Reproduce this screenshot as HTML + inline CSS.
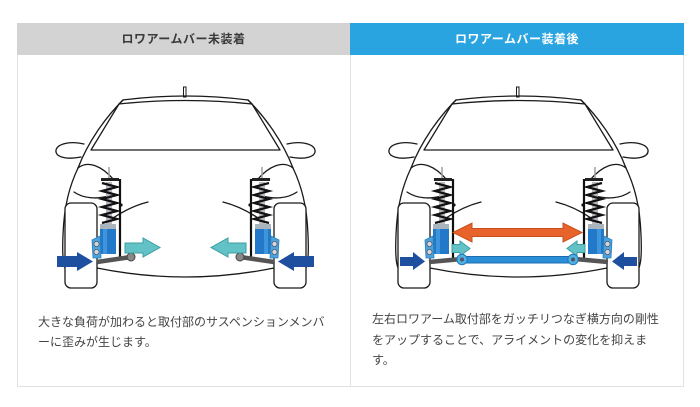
<!DOCTYPE html>
<html><head><meta charset="utf-8">
<style>
html,body{margin:0;padding:0;background:#fff;}
body{width:700px;height:407px;position:relative;overflow:hidden;font-family:"Liberation Sans","Noto Sans CJK JP",sans-serif;}
.panel{position:absolute;top:23px;height:364px;border:1px solid #e2e2e2;box-sizing:border-box;background:#fff;}
.hdr{position:absolute;top:23px;height:32px;line-height:32px;text-align:center;font-size:12px;font-weight:bold;letter-spacing:0.5px;}
.txt{position:absolute;font-size:12px;color:#444;white-space:nowrap;}
svg{position:absolute;left:0;top:0;}
</style></head><body>
<div class="panel" style="left:17px;width:334px;"></div>
<div class="panel" style="left:350px;width:334px;"></div>
<div class="hdr" style="left:17px;width:333px;background:#d3d3d3;color:#3a3a3a;">ロワアームバー未装着</div>
<div class="hdr" style="left:350px;width:334px;background:#29a4e0;color:#fff;">ロワアームバー装着後</div>

<svg width="700" height="407" viewBox="0 0 700 407">
<defs>
  <g id="carHalf" fill="none" stroke="#1a1a1a" stroke-width="1.3" stroke-linejoin="round" stroke-linecap="round">
    <path d="M123 100 L119 104"/>
    <path d="M123 100 C105 118, 88 142, 78 168"/>
    <path d="M78 168 C70 185, 64 205, 63 235 C62 258, 63 270, 70 275"/>
    <path d="M84 144 C72 141, 58 143, 56 150 C55 157, 66 160, 81 157" fill="#fff"/>
    <path d="M78 168 C88 160, 102 166, 114 180"/>
    <path d="M74 192 C84 199, 98 199, 108 196"/>
    <path d="M113 218 C125 210, 136 205, 148 202"/>
    <rect x="65" y="203" width="32" height="85" rx="6" fill="#fff"/>
  </g>
  <g id="strut">
    <line x1="109" y1="167" x2="109" y2="180" stroke="#a0a0a0" stroke-width="1.5"/>
    <rect x="106" y="182" width="6" height="42" fill="#b8bcc0"/>
    <polyline points="102,183 117,187 102,191 117,195 102,199 117,203 102,207 117,211 102,215 117,219 102,223" fill="none" stroke="#111" stroke-width="2.2"/>
    <rect x="101" y="178" width="18" height="3" fill="#222"/>
    <path d="M120 179 L120 260" stroke="#111" stroke-width="2.2"/>
    <circle cx="121" cy="205" r="1.6" fill="#111"/>
    <rect x="100" y="224" width="16" height="5" fill="#aab4bd"/>
    <rect x="100" y="229" width="16" height="25" fill="#2279c9"/>
    <rect x="103" y="229" width="4" height="25" fill="#3e95dc"/>
    <path d="M92 240 L100 236 L101 258 L93 258 Z" fill="#4ba3dc" stroke="#2a7fbf" stroke-width="0.8"/>
    <circle cx="96.5" cy="244" r="2.6" fill="#d0d8e0" stroke="#556" stroke-width="0.8"/>
    <circle cx="96.5" cy="252" r="2.6" fill="#d0d8e0" stroke="#556" stroke-width="0.8"/>
  </g>
  <g id="car">
    <rect x="183.5" y="87" width="2.5" height="10" fill="#fff" stroke="#1a1a1a" stroke-width="1"/>
    <g fill="none" stroke="#1a1a1a" stroke-width="1.3" stroke-linejoin="round">
      <path d="M123 100 Q185.5 92 248 100"/>
      <path d="M119 104 Q185.5 97 252 104"/>
      <path d="M119 104 L91 150 L280 150 L252 104"/>
      <path d="M97 268 Q185.5 286 274 268"/>
    </g>
    <use href="#carHalf"/>
    <use href="#carHalf" transform="matrix(-1,0,0,1,371,0)"/>
  </g>
  <g id="p1half">
    <use href="#strut"/>
    <line x1="97" y1="262" x2="131" y2="257" stroke="#555" stroke-width="4.5"/>
    <circle cx="131" cy="257" r="4" fill="#888" stroke="#444" stroke-width="1"/>
    <polygon points="57,256 77,256 77,252 93,261.5 77,271 77,267 57,267" fill="#1f4f9f"/>
    <polygon points="125,243 143,243 143,238 160,247.5 143,257 143,253 125,253" fill="#63c2c6" stroke="#3b9ea4" stroke-width="1"/>
  </g>
  <g id="p2half">
    <use href="#strut"/>
    <line x1="96" y1="262" x2="129" y2="259" stroke="#555" stroke-width="4.5"/>
    <polygon points="67,257 80,257 80,252 92,261.5 80,270 80,266 67,266" fill="#1f4f9f"/>
    <polygon points="119,244.5 127,244.5 127,241 137,248.5 127,256 127,252.5 119,252.5" fill="#63c2c6" stroke="#3b9ea4" stroke-width="1"/>
  </g>
</defs>

<!-- Left panel -->
<use href="#car"/>
<use href="#p1half"/>
<use href="#p1half" transform="matrix(-1,0,0,1,371,0)"/>

<!-- Right panel -->
<g transform="translate(333,0)">
  <use href="#car"/>
  <use href="#p2half"/>
  <use href="#p2half" transform="matrix(-1,0,0,1,371,0)"/>
</g>
<polygon points="453,232.5 472,223 472,228.5 563,228.5 563,223 582,232.5 563,242 563,236.5 472,236.5 472,242" fill="#e8632b" stroke="#c8501e" stroke-width="1"/>
<rect x="462" y="256.5" width="111" height="6.5" fill="#2b8fd8" stroke="#1b6db0" stroke-width="1"/>
<circle cx="462" cy="259.5" r="5.2" fill="#4fb0e3" stroke="#2176b8" stroke-width="1"/>
<circle cx="462" cy="259.5" r="2" fill="#556"/>
<circle cx="573" cy="259.5" r="5.2" fill="#4fb0e3" stroke="#2176b8" stroke-width="1"/>
<circle cx="573" cy="259.5" r="2" fill="#556"/>
</svg>

<div class="txt" style="left:38px;top:313px;line-height:19.5px;">大きな負荷が加わると取付部のサスペンションメンバ<br>ーに歪みが生じます。</div>
<div class="txt" style="left:372px;top:309px;line-height:20.5px;">左右ロワアーム取付部をガッチリつなぎ横方向の剛性<br>をアップすることで、アライメントの変化を抑えま<br>す。</div>
</body></html>
